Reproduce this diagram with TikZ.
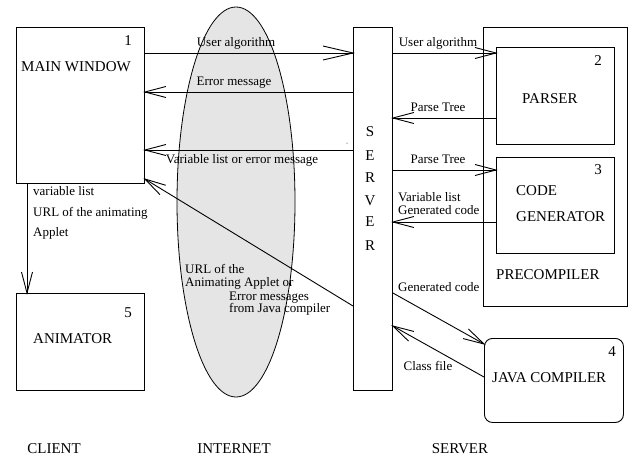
\documentclass[tikz,border=0pt]{standalone}
\usepackage{fontspec}
\setmainfont{Liberation Serif}
\usetikzlibrary{arrows.meta,shapes.geometric}

% open "V" arrow head made of two straight strokes
\pgfdeclarearrow{
  name = OpenVee,
  parameters = {\the\pgfarrowlength,\the\pgfarrowwidth},
  setup code = {
    \pgfarrowssettipend{0pt}
    \pgfarrowssetlineend{-0.5\pgflinewidth}
    \pgfarrowssetbackend{-\pgfarrowlength}
    \pgfarrowssavethe\pgfarrowlength
    \pgfarrowssavethe\pgfarrowwidth
  },
  drawing code = {
    \pgfsetdash{}{0pt}
    \pgfpathmoveto{\pgfqpoint{-\pgfarrowlength}{.5\pgfarrowwidth}}
    \pgfpathlineto{\pgfpointorigin}
    \pgfpathlineto{\pgfqpoint{-\pgfarrowlength}{-.5\pgfarrowwidth}}
    \pgfusepathqstroke
  },
  defaults = {length = 21pt, width = 11pt}
}

\tikzset{
  box/.style={draw, line width=0.9pt, rectangle, inner sep=0pt, anchor=north west},
  flow/.style={line width=0.9pt, -{OpenVee}},
  bigflow/.style={line width=0.9pt, -{OpenVee[length=30pt,width=14pt]}},
  lbl/.style={inner sep=0pt, font=\fontsize{13}{13}\selectfont, text height=9.5pt, text depth=3pt},
  big/.style={inner sep=0pt, font=\fontsize{15}{15}\selectfont, text height=10.5pt, text depth=3pt},
  cloud/.style={draw, line width=0.8pt, fill=black!10},
}

\begin{document}
\begin{tikzpicture}[x=1pt, y=-1pt]
\useasboundingbox (0,0) rectangle (637,459);

% the internet between client and server
\node[cloud, ellipse, minimum width=118pt, minimum height=390pt, inner sep=0pt] (net) at (236,202) {};

% component boxes
\node[box, minimum width=128pt, minimum height=156pt] (mainwin) at (16,27) {};
\node[box, minimum width=128pt, minimum height=97pt] (animator) at (16,293) {};
\node[box, minimum width=39pt, minimum height=363pt] (server) at (353,27) {};
\node[box, minimum width=144pt, minimum height=279pt] (precomp) at (483,27) {};
\node[box, minimum width=118pt, minimum height=97pt] (parser) at (496,47) {};
\node[box, minimum width=118pt, minimum height=96pt] (codegen) at (496,157) {};
\node[box, rounded corners=8pt, minimum width=139pt, minimum height=84pt] (javac) at (484,338) {};

% box captions and numbers
\node[big] (n1) at (128,42) {1};
\node[big, anchor=west] (tmain) at (21,68) {MAIN WINDOW};
\node[big] (n5) at (128,314) {5};
\node[big, anchor=west] (tanim) at (33,340) {ANIMATOR};
\node[big] (n2) at (598,62) {2};
\node[big, anchor=west] (tpars) at (522,100) {PARSER};
\node[big] (n3) at (598,171) {3};
\node[big, anchor=west] (tcode) at (516,192) {CODE};
\node[big, anchor=west] (tgen) at (516,218) {GENERATOR};
\node[big, anchor=west] (tprec) at (496,276) {PRECOMPILER};
\node[big] (n4) at (612,353) {4};
\node[big, anchor=west] (tjava) at (492,379) {JAVA COMPILER};

% vertical server caption
\node[big] (s1) at (370,133) {S};
\node[big] (s2) at (370,157) {E};
\node[big] (s3) at (370,179) {R};
\node[big] (s4) at (370,202) {V};
\node[big] (s5) at (370,223) {E};
\node[big] (s6) at (370,247) {R};

% client <-> server traffic
\draw[bigflow] (mainwin.east |- 0,53) -- (server.west |- 0,53);
\node[lbl] (l1) at (236,43) {User algorithm};
\draw[flow] (server.west |- 0,92) -- (mainwin.east |- 0,92);
\node[lbl] (l2) at (234,82) {Error message};
\draw[flow] (server.west |- 0,150) -- (mainwin.east |- 0,150);
\node[lbl] (l3) at (242,160) {Variable list or error message};
\fill (347,143) circle (0.5pt);
\draw[flow] (server.west |- 0,306) -- (mainwin.east |- 0,179);
\node[lbl, anchor=west] (l4a) at (185,270) {URL of the};
\node[lbl, anchor=west] (l4b) at (185,283) {Animating Applet or};
\node[lbl, anchor=west] (l4c) at (229,297) {Error messages};
\node[lbl, anchor=west] (l4d) at (229,309) {from Java compiler};

% main window -> animator
\draw[flow] (27,0 |- mainwin.south) -- (27,0 |- animator.north);
\node[lbl, anchor=west] (l5a) at (33,192) {variable list};
\node[lbl, anchor=west] (l5b) at (33,213) {URL of the animating};
\node[lbl, anchor=west] (l5c) at (33,233) {Applet};

% server <-> precompiler
\draw[flow] (server.east |- 0,53) -- (parser.west |- 0,53);
\node[lbl] (l6) at (438,43) {User algorithm};
\draw[flow] (parser.west |- 0,118) -- (server.east |- 0,118);
\node[lbl] (l7) at (438,108) {Parse Tree};
\draw[flow] (server.east |- 0,170) -- (codegen.west |- 0,170);
\node[lbl] (l8) at (438,160) {Parse Tree};
\draw[flow] (codegen.west |- 0,222) -- (server.east |- 0,222);
\node[lbl, anchor=west] (l9a) at (398,198) {Variable list};
\node[lbl, anchor=west] (l9b) at (398,211) {Generated code};

% server <-> java compiler
\draw[flow] (server.east |- 0,293) -- (javac.west |- 0,344);
\node[lbl, anchor=west] (l10) at (398,288) {Generated code};
\draw[flow] (javac.west |- 0,377) -- (server.east |- 0,326);
\node[lbl] (l11) at (428,367) {Class file};

% tier captions
\node[big] (cclient) at (54,450) {CLIENT};
\node[big] (cnet) at (234,450) {INTERNET};
\node[big] (cserver) at (460,450) {SERVER};
\end{tikzpicture}
\end{document}
